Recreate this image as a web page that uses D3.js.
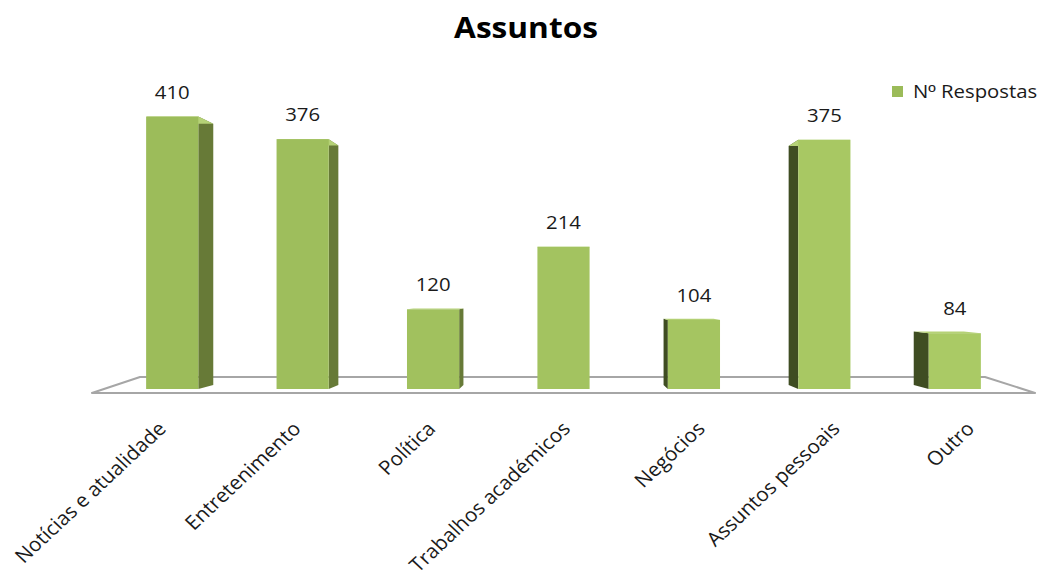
<!DOCTYPE html>
<html>
<head>
<meta charset="utf-8">
<script src="https://cdn.jsdelivr.net/npm/d3@7"></script>
<style>
  html, body { margin: 0; padding: 0; background: #fff; }
  svg { display: block; font-family: "Open Sans", "Noto Sans", sans-serif; }
</style>
</head>
<body>
<svg id="chart" width="1047" height="576"></svg>
<script>
// Data
const categories = ["Notícias e atualidade", "Entretenimento", "Política", "Trabalhos académicos", "Negócios", "Assuntos pessoais", "Outro"];
const respostas = [410, 376, 120, 214, 104, 375, 84];
const seriesName = ["N", "º", " Respostas"];
const chartTitle = "Assuntos";

const W = 1047, H = 576;
const svg = d3.select("#chart");
const textStretch = 1.13;   // horizontal stretch applied to text
const labelStretch = 1.07;

const x = d3.scaleBand().domain(categories).range([107, 1020]).paddingInner(0.6).paddingOuter(0.3);
const y = d3.scaleLinear().domain([0, 450]).range([389, 90]);

// simple one-point perspective for the bar depth
const vp = { x: (x.range()[0] + x.range()[1]) / 2, y: 291 };
const depth = 0.041;
const back = (px, py) => [px + (vp.x - px) * depth, py + (vp.y - py) * depth];
// category positions projected onto the front edge of the floor
const frontSpread = 1.033;
const front = px => vp.x + (px - vp.x) * frontSpread;

const frontColor = d3.scaleLinear().domain(x.range()).range(["#9bbb59", "#abcb66"]);
const rightSide = "#677a37";
const leftSide = "#3f4d22";
const topColor = "#b5d276";

// floor
const y0 = y(0);
const [r0, r1] = x.range();
const floor = [[front(r0), y0 + 4], [front(r1), y0 + 4], [r1 - 35, y0 - 12], [r0 + 33, y0 - 12]];
svg.append("path")
  .attr("d", d3.line()(floor) + "Z")
  .attr("fill", "#fff")
  .attr("stroke", "#a6a6a6")
  .attr("stroke-width", 2)
  .attr("stroke-linejoin", "round");

// bars
const bars = svg.append("g").selectAll("g").data(categories).join("g");
bars.each(function (c, i) {
  const g = d3.select(this);
  const xl = x(c), xr = x(c) + x.bandwidth();
  const yt = y(respostas[i]), yb = y(0);
  const cx = xl + x.bandwidth() / 2;
  // side face
  if (cx < vp.x - 5) {
    const pts = [[xr, yt], back(xr, yt), back(xr, yb), [xr, yb]];
    g.append("path").attr("d", d3.line()(pts) + "Z").attr("fill", rightSide);
  } else if (cx > vp.x + 5) {
    const pts = [[xl, yt], back(xl, yt), back(xl, yb), [xl, yb]];
    g.append("path").attr("d", d3.line()(pts) + "Z").attr("fill", leftSide);
  }
  // top face (hidden behind the front face when looking up at it)
  const top = [[xl, yt], [xr, yt], back(xr, yt), back(xl, yt)];
  g.append("path").attr("d", d3.line()(top) + "Z").attr("fill", topColor);
  // front face
  g.append("rect")
    .attr("x", xl).attr("y", yt)
    .attr("width", x.bandwidth()).attr("height", yb - yt)
    .attr("fill", frontColor(cx));
  // value label
  g.append("text")
    .attr("transform", `translate(${cx},${yt - 18}) scale(${textStretch},1)`)
    .attr("text-anchor", "middle")
    .attr("font-size", 18)
    .attr("fill", "#1a1a1a")
    .text(respostas[i]);
});

// category labels
svg.append("g").selectAll("text").data(categories).join("text")
  .attr("transform", c => `translate(${front(x(c) + x.bandwidth() / 2) + 8},${430}) scale(${labelStretch},1) rotate(-45)`)
  .attr("text-anchor", "end")
  .attr("font-size", 19.5)
  .attr("fill", "#1a1a1a")
  .text(c => c);

// title
svg.append("text")
  .attr("transform", `translate(526,38) scale(${textStretch},1)`)
  .attr("text-anchor", "middle")
  .attr("font-size", 28)
  .attr("font-weight", "bold")
  .attr("fill", "#000")
  .text(chartTitle);

// legend
const legend = svg.append("g").attr("transform", "translate(892,86)");
legend.append("rect").attr("width", 11).attr("height", 11).attr("fill", "#9bbb59");
const lt = legend.append("text")
  .attr("transform", `translate(21,12) scale(${textStretch},1)`)
  .attr("font-size", 18)
  .attr("fill", "#1a1a1a");
lt.selectAll("tspan").data(seriesName).join("tspan")
  .attr("font-family", (d, i) => i === 1 ? "Liberation Sans" : null)
  .text(d => d);
</script>
</body>
</html>
